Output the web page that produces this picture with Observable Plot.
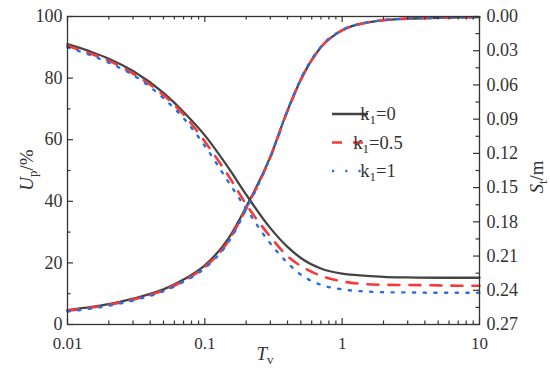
<!DOCTYPE html>
<html>
<head>
<meta charset="utf-8">
<script src="https://cdn.jsdelivr.net/npm/d3@7"></script>
<script src="https://cdn.jsdelivr.net/npm/@observablehq/plot@0.6"></script>
<style>
  html, body { margin: 0; padding: 0; background: #fff; }
  #chart svg { display: block; }
</style>
</head>
<body>
<div id="chart"></div>
<script>
// ---- data ----
const Tv = [0.01, 0.015, 0.02, 0.03, 0.05, 0.07, 0.1, 0.15, 0.2, 0.3, 0.4, 0.5, 0.7, 1, 1.5, 2, 3, 5, 7, 10];
// Up (%) – left axis
const Up_k0  = [4.7, 5.7, 6.6, 8.4, 11.4, 14.6, 19.2, 28.2, 38.2, 54.5, 69.5, 79.5, 90.0, 95.5, 98.0, 98.8, 99.3, 99.6, 99.7, 99.8];
const Up_k05 = [4.5, 5.5, 6.4, 8.1, 11.1, 14.2, 18.7, 27.4, 37.7, 54.3, 69.3, 79.5, 90.0, 95.5, 98.0, 98.8, 99.3, 99.6, 99.7, 99.8];
const Up_k1  = [4.2, 5.2, 6.1, 7.8, 10.8, 13.9, 18.3, 27.0, 37.4, 54.3, 69.5, 79.8, 90.2, 95.6, 98.0, 98.8, 99.3, 99.6, 99.7, 99.8];
// St (m) – right axis (reversed, 0 at top, 0.27 at bottom)
const St_k0  = [0.0243, 0.0311, 0.0370, 0.0478, 0.0670, 0.0837, 0.1042, 0.1334, 0.1561, 0.1855, 0.2020, 0.2117, 0.2209, 0.2255, 0.2273, 0.2282, 0.2287, 0.2290, 0.2290, 0.2290];
const St_k05 = [0.0257, 0.0329, 0.0389, 0.0500, 0.0689, 0.0859, 0.1096, 0.1404, 0.1647, 0.1931, 0.2101, 0.2187, 0.2273, 0.2322, 0.2346, 0.2352, 0.2354, 0.2357, 0.2360, 0.2360];
const St_k1  = [0.0270, 0.0343, 0.0405, 0.0513, 0.0716, 0.0891, 0.1134, 0.1458, 0.1685, 0.1990, 0.2160, 0.2263, 0.2352, 0.2392, 0.2411, 0.2417, 0.2419, 0.2422, 0.2422, 0.2422];

const seriesNames = ["k1=0", "k1=0.5", "k1=1"];
const seriesColors = ["#444444", "#f53a3a", "#2a6fe0"];

// ticks
const xMajor = [0.01, 0.1, 1, 10];
const xMinor = [2,3,4,5,6,7,8,9].flatMap(m => [m * 0.01, m * 0.1, m * 1]);
const yMajor = [0, 20, 40, 60, 80, 100];
const yMinor = [10, 30, 50, 70, 90];
const sMajor = [0.00, 0.03, 0.06, 0.09, 0.12, 0.15, 0.18, 0.21, 0.24, 0.27];
const sMinor = [0.015, 0.045, 0.075, 0.105, 0.135, 0.165, 0.195, 0.225, 0.255];

const SMAX = 0.27;
const sToY = s => 100 * (1 - s / SMAX);
const yToS = y => (1 - y / 100) * SMAX;

// build long table
const upSets = [Up_k0, Up_k05, Up_k1];
const stSets = [St_k0, St_k05, St_k1];
const rows = [];
seriesNames.forEach((name, i) => {
  Tv.forEach((t, j) => rows.push({series: name, curve: name + "-U", T: t, v: upSets[i][j]}));
  Tv.forEach((t, j) => rows.push({series: name, curve: name + "-S", T: t, v: sToY(stSets[i][j])}));
});

const W = 550, H = 371, ML = 67, MR = 71, MT = 16, MB = 47;
const FW = W - ML - MR, FH = H - MT - MB;
const ink = "#333";
const font = "'Liberation Serif', 'Times New Roman', serif";

const lineStyle = [
  {stroke: seriesColors[0], strokeWidth: 2.3},
  {stroke: seriesColors[1], strokeWidth: 2.6, strokeDasharray: "11,10"},
  {stroke: seriesColors[2], strokeWidth: 2.4, strokeDasharray: "2.2,8.5"}
];

const chart = Plot.plot({
  width: W, height: H,
  marginLeft: ML, marginRight: MR, marginTop: MT, marginBottom: MB,
  x: {type: "log", domain: [0.01, 10]},
  y: {domain: [0, 100]},
  style: {fontFamily: font, fontSize: "18px", color: ink, background: "#fff", overflow: "visible"},
  marks: [
    // curves
    ...seriesNames.map((name, i) =>
      Plot.line(rows.filter(r => r.series === name), {
        x: "T", y: "v", z: "curve", curve: "monotone-x",
        ...lineStyle[i]
      })),
    Plot.frame({stroke: ink, strokeWidth: 1.3}),
    // inward ticks: bottom & top
    Plot.tickX(xMajor, {x: d => d, stroke: ink, strokeWidth: 1.2, insetTop: FH - 6}),
    Plot.tickX(xMinor, {x: d => d, stroke: ink, strokeWidth: 1.2, insetTop: FH - 3.5}),
    Plot.tickX(xMajor, {x: d => d, stroke: ink, strokeWidth: 1.2, insetBottom: FH - 6}),
    Plot.tickX(xMinor, {x: d => d, stroke: ink, strokeWidth: 1.2, insetBottom: FH - 3.5}),
    // left ticks
    Plot.tickY(yMajor, {y: d => d, stroke: ink, strokeWidth: 1.2, insetRight: FW - 6}),
    Plot.tickY(yMinor, {y: d => d, stroke: ink, strokeWidth: 1.2, insetRight: FW - 3.5}),
    // right ticks
    Plot.tickY(sMajor.map(sToY), {y: d => d, stroke: ink, strokeWidth: 1.2, insetLeft: FW - 6}),
    Plot.tickY(sMinor.map(sToY), {y: d => d, stroke: ink, strokeWidth: 1.2, insetLeft: FW - 3.5}),
    // tick labels
    Plot.axisX(xMajor, {anchor: "bottom", tickSize: 0, tickPadding: 12, fontSize: 17, tickFormat: d => String(d), label: null, fill: ink}),
    Plot.axisY(yMajor, {anchor: "left", tickSize: 0, tickPadding: 5, tickFormat: d => String(d), label: null, fill: ink}),
    Plot.axisY(sMajor.map(sToY), {anchor: "right", tickSize: 0, tickPadding: 7, tickFormat: d => yToS(d).toFixed(2), label: null, fill: ink})
  ]
});

document.getElementById("chart").appendChild(chart);

// ---- axis titles and legend (rich text with subscripts) ----
const svg = d3.select(chart);
const g = svg.append("g").attr("font-family", font).attr("fill", ink);

function rich(sel, parts) {
  parts.forEach(p => {
    const ts = sel.append("tspan").text(p.t);
    if (p.italic) ts.attr("font-style", "italic");
    if (p.sub) ts.attr("font-size", p.subSize || 13).attr("dy", p.dy);
    else if (p.dy) ts.attr("dy", p.dy);
  });
}

// x title
rich(g.append("text").attr("x", 265).attr("y", 360).attr("text-anchor", "middle").attr("font-size", 19),
  [{t: "T", italic: true}, {t: "v", sub: true, dy: 4}]);
// left title
rich(g.append("text").attr("transform", `translate(33,170) rotate(-90)`).attr("text-anchor", "middle").attr("font-size", 19),
  [{t: "U", italic: true}, {t: "p", sub: true, dy: 4}, {t: "/%", dy: -4}]);
// right title
rich(g.append("text").attr("transform", `translate(543,177) rotate(-90)`).attr("text-anchor", "middle").attr("font-size", 19),
  [{t: "S", italic: true}, {t: "t", sub: true, dy: 4}, {t: "/m", dy: -4}]);

// legend
const legY = [114, 142.5, 171];
seriesNames.forEach((name, i) => {
  const l = g.append("line").attr("x1", 332).attr("x2", 368).attr("y1", legY[i]).attr("y2", legY[i])
    .attr("stroke", lineStyle[i].stroke).attr("stroke-width", lineStyle[i].strokeWidth);
  if (lineStyle[i].strokeDasharray) l.attr("stroke-dasharray", i === 1 ? "10,11" : "2.2,11");
  const txt = g.append("text").attr("x", 378).attr("y", legY[i] + 6).attr("font-size", 18.5);
  rich(txt, [{t: "k"}, {t: "1", sub: true, dy: 4, subSize: 13}, {t: name.slice(2), dy: -4}]);
});
</script>
</body>
</html>
